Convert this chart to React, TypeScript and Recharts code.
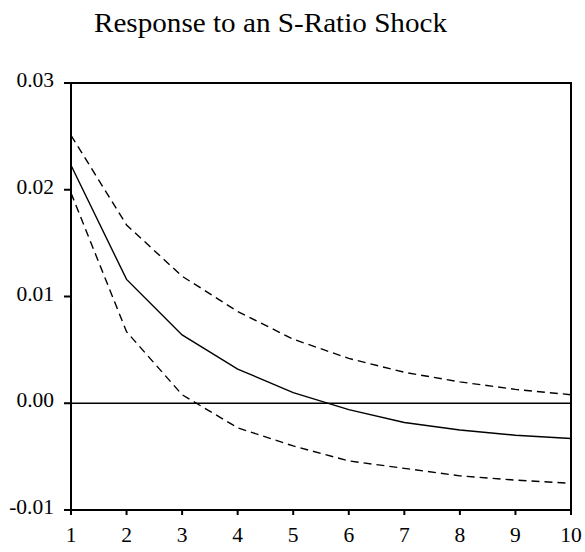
import { LineChart, Line, XAxis, YAxis, ReferenceLine, ReferenceArea } from 'recharts';

// impulse response, periods 1..10
const periods = [1, 2, 3, 4, 5, 6, 7, 8, 9, 10];
const response = [0.0223, 0.0116, 0.0064, 0.0032, 0.001, -0.0006, -0.0018, -0.0025, -0.003, -0.0033];
const upperBand = [0.0251, 0.0167, 0.0119, 0.0086, 0.006, 0.0042, 0.0029, 0.002, 0.0013, 0.0008];
const lowerBand = [0.0197, 0.0067, 0.0008, -0.0023, -0.004, -0.0054, -0.0061, -0.0068, -0.0072, -0.0075];
const yTicks = [-0.01, 0, 0.01, 0.02, 0.03];

const FONT = 'Liberation Serif';

const data = periods.map((p, i) => ({
  period: p,
  resp: response[i],
  upper: upperBand[i],
  lower: lowerBand[i],
}));

const XTick = ({ x, y, payload }: any) => (
  <text x={x} y={y + 25} textAnchor="middle" fill="#000" fontSize={21.5} fontFamily={FONT}>
    {payload.value}
  </text>
);

const YTick = ({ x, y, payload }: any) => (
  <text x={x} y={y + 4} textAnchor="end" fill="#000" fontSize={21.5} fontFamily={FONT}>
    {Number(payload.value).toFixed(2)}
  </text>
);

export default function App() {
  // absolute so the page doesn't get a scrollbar from the body margin
  return (
    <div style={{ position: 'absolute', left: 0, top: 0, width: 585, height: 552, background: '#fff' }}>
      <div
        style={{
          position: 'absolute',
          left: 0,
          width: 541,
          top: 9.5,
          textAlign: 'center',
          fontFamily: FONT,
          fontSize: 26.5,
          lineHeight: 1,
          color: '#000',
          whiteSpace: 'nowrap',
          transform: 'scaleX(1.1)',
          transformOrigin: '270.5px 0',
        }}
      >
        Response to an S-Ratio Shock
      </div>
      <LineChart
        width={585}
        height={552}
        data={data}
        margin={{ top: 83, right: 14, bottom: 12, left: 8 }}
      >
        <XAxis
          dataKey="period"
          type="number"
          domain={[1, 10]}
          ticks={periods}
          tickSize={5}
          tickMargin={2}
          stroke="#000"
          strokeWidth={2}
          tick={<XTick />}
          interval={0}
        />
        <YAxis
          type="number"
          domain={[-0.01, 0.03]}
          ticks={yTicks}
          width={63}
          tickSize={7}
          tickMargin={10}
          stroke="#000"
          strokeWidth={2}
          tick={<YTick />}
          interval={0}
        />
        <ReferenceArea
          x1={1}
          x2={10}
          y1={-0.01}
          y2={0.03}
          fill="none"
          stroke="#000"
          strokeWidth={2}
          fillOpacity={0}
        />
        <ReferenceLine y={0} stroke="#000" strokeWidth={1.5} />
        <Line
          dataKey="upper"
          stroke="#000"
          strokeWidth={1.4}
          strokeDasharray="8 5"
          dot={false}
          isAnimationActive={false}
        />
        <Line
          dataKey="resp"
          stroke="#000"
          strokeWidth={1.4}
          dot={false}
          isAnimationActive={false}
        />
        <Line
          dataKey="lower"
          stroke="#000"
          strokeWidth={1.4}
          strokeDasharray="8 5"
          dot={false}
          isAnimationActive={false}
        />
      </LineChart>
    </div>
  );
}
